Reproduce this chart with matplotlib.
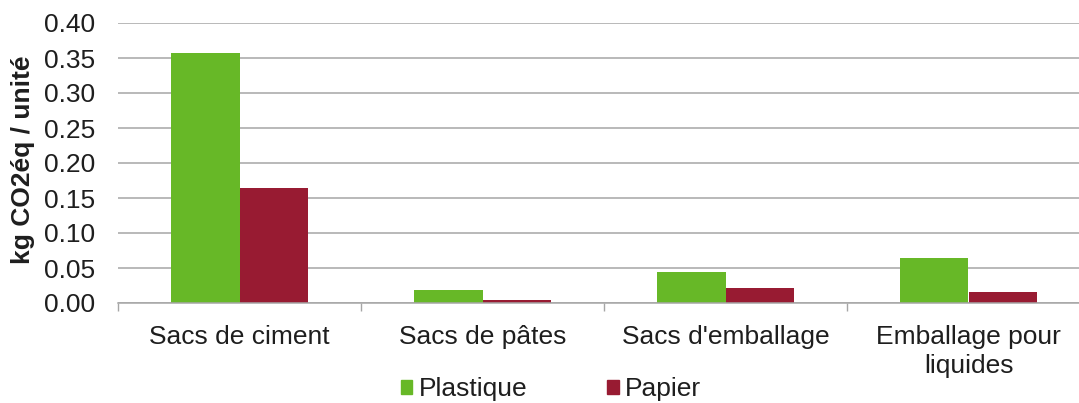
import matplotlib
matplotlib.use("Agg")
import matplotlib.pyplot as plt
from matplotlib.patches import Patch
import numpy as np

plt.rcParams['font.family'] = ['Liberation Sans', 'DejaVu Sans']

# Données
categories = ["Sacs de ciment", "Sacs de pâtes", "Sacs d'emballage",
              "Emballage pour\nliquides"]
plastique = [0.357, 0.018, 0.044, 0.064]
papier = [0.164, 0.004, 0.021, 0.016]
series_names = ["Plastique", "Papier"]
yticks = [0.00, 0.05, 0.10, 0.15, 0.20, 0.25, 0.30, 0.35, 0.40]

vert = '#67B827'
rouge = '#981B32'
gris = '#A6A6A6'
texte = '#1E1E1E'

fig = plt.figure(figsize=(10.79, 4.03), dpi=100)
ax = fig.add_axes([118 / 1079, 1 - 303 / 403, 972 / 1079, 280 / 403])

x = np.arange(len(categories))
w = 0.283
ax.bar(x - w / 2, plastique, width=w, color=vert, zorder=3)
ax.bar(x + w / 2, papier, width=w, color=rouge, zorder=3)

ax.set_xlim(-0.5, len(categories) - 0.5)
ax.set_ylim(0, 0.40)
ax.set_yticks(yticks)
ax.set_yticklabels([f"{v:.2f}" for v in yticks])
ax.set_xticks(x)
ax.set_xticklabels(categories, linespacing=1.3)
ax.set_xticks(np.arange(len(categories) + 1) - 0.5, minor=True)

ax.tick_params(axis='y', length=0, pad=16.5, labelsize=19, labelcolor=texte)
ax.tick_params(axis='x', which='major', length=0, pad=15.5, labelsize=19,
               labelcolor=texte)
ax.tick_params(axis='x', which='minor', length=6, width=1, color=gris,
               direction='out')

ax.grid(axis='y', color=gris, linewidth=1.1, zorder=0)
for s in ['left', 'right', 'top']:
    ax.spines[s].set_visible(False)
ax.spines['bottom'].set_color(gris)
ax.spines['bottom'].set_linewidth(1.1)
ax.spines['bottom'].set_zorder(4)

fig.text(23 / 1079, 1 - 160 / 403, "kg CO2éq / unité", rotation=90,
         ha='center', va='center', fontsize=19, fontweight='bold', color=texte)

handles = [Patch(color=vert), Patch(color=rouge)]
fig.legend(handles, series_names, loc='center', ncol=2, frameon=False,
           bbox_to_anchor=(551 / 1079, 1 - 389 / 403),
           bbox_transform=fig.transFigure, fontsize=19,
           handlelength=0.45, handleheight=0.45, handletextpad=0.25,
           columnspacing=3.0, labelcolor=texte)

fig.savefig("out.png", dpi=100)
